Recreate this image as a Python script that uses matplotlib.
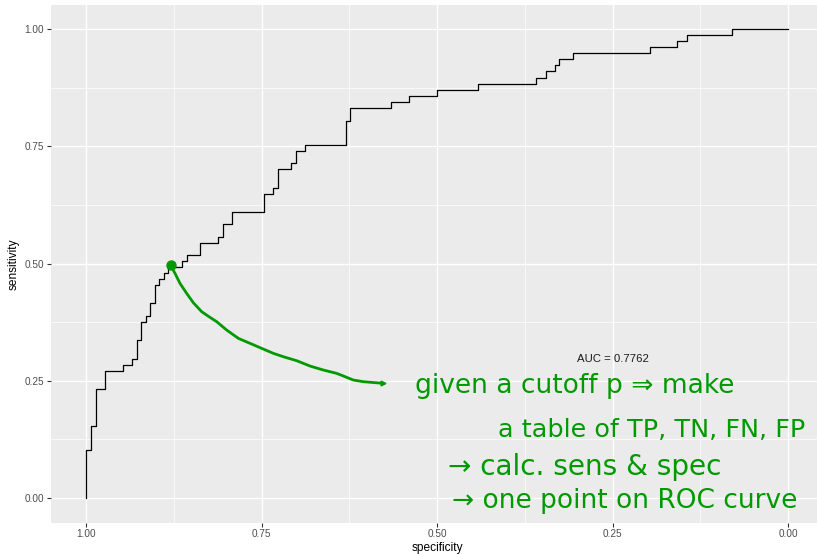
import matplotlib
matplotlib.use("Agg")
import matplotlib.pyplot as plt
import numpy as np

# ROC staircase: specificity at which each vertical jump happens, and the sensitivity after it
jump_spec = [1.0, 0.9929, 0.9862, 0.9734, 0.9478, 0.9350, 0.9279, 0.9218, 0.9151, 0.9090,
             0.9019, 0.8957, 0.8890, 0.8829, 0.8639, 0.8568, 0.8378, 0.8118, 0.8055, 0.7923,
             0.7468, 0.7336, 0.7273, 0.7080, 0.7017, 0.6885, 0.6302, 0.6235, 0.5651, 0.5395,
             0.5007, 0.4420, 0.3585, 0.3452, 0.3324, 0.3257, 0.3063, 0.1963, 0.1575, 0.1441,
             0.0792]
level_sens = [0.1023, 0.1542, 0.2324, 0.2714, 0.2836, 0.2970, 0.3369, 0.3753, 0.3881, 0.4151,
              0.4535, 0.4663, 0.4804, 0.4932, 0.5053, 0.5192, 0.5444, 0.5571, 0.5842, 0.6098,
              0.6482, 0.6616, 0.7009, 0.7136, 0.7399, 0.7533, 0.8045, 0.8309, 0.8443, 0.8571,
              0.8706, 0.8834, 0.8962, 0.9098, 0.9226, 0.9354, 0.9488, 0.9616, 0.9751, 0.9879,
              1.0]

# hand-drawn annotation curve (data coords)
note_spec = [0.8798, 0.8736, 0.8665, 0.8570, 0.8475, 0.8356, 0.8237, 0.8142, 0.8000, 0.7833,
             0.7667, 0.7501, 0.7335, 0.7192, 0.7002, 0.6812, 0.6622, 0.6432, 0.6313, 0.6195,
             0.6052, 0.5767]
note_sens = [0.4968, 0.4790, 0.4577, 0.4364, 0.4165, 0.3973, 0.3852, 0.3760, 0.3582, 0.3404,
             0.3298, 0.3191, 0.3085, 0.3013, 0.2928, 0.2814, 0.2729, 0.2658, 0.2587, 0.2516,
             0.2480, 0.2445]
cut_point = (0.8798, 0.4968)

auc_text = "AUC = 0.7762"
auc_pos = (0.25, 0.297)

tick_vals = [0.0, 0.25, 0.5, 0.75, 1.0]
tick_labels = ["0.00", "0.25", "0.50", "0.75", "1.00"]
minor_vals = [0.125, 0.375, 0.625, 0.875]

note_lines = ["given a cutoff p \u21d2 make",
              "a table of TP, TN, FN, FP",
              "\u2192 calc. sens & spec",
              "\u2192 one point on ROC curve"]

W, H = 817, 554
fig = plt.figure(figsize=(W / 100, H / 100), dpi=100)
fig.patch.set_facecolor("white")
L, R, T, B = 51, 817, 5, 522.5
ax = fig.add_axes([L / W, (H - B) / H, (R - L) / W, (B - T) / H])
ax.set_facecolor("#EBEBEB")
for s in ax.spines.values():
    s.set_visible(False)

ax.set_xlim(1.0503, -0.0413)
ax.set_ylim(-0.0522, 1.0512)

ax.set_xticks(tick_vals)
ax.set_xticklabels(tick_labels)
ax.set_yticks(tick_vals)
ax.set_yticklabels(tick_labels)
ax.set_xticks(minor_vals, minor=True)
ax.set_yticks(minor_vals, minor=True)
ax.grid(True, which="major", color="white", lw=1.0)
ax.grid(True, which="minor", color="white", lw=0.5)
ax.set_axisbelow(True)
ax.tick_params(which="major", length=2.8, width=0.8, color="#333333", pad=2,
               labelsize=7.2, labelcolor="#4D4D4D")
ax.tick_params(which="minor", length=0)
for lab in ax.get_xticklabels() + ax.get_yticklabels():
    lab.set_family("Liberation Sans")

# ROC step line
xs = [jump_spec[0]] + jump_spec[1:] + [0.0]
ys = [0.0] + level_sens
ax.step(xs, ys, where="pre", color="black", lw=0.9, zorder=3)

ax.text(auc_pos[0], auc_pos[1], auc_text, ha="center", va="center",
        fontsize=8.2, family="Liberation Sans", color="#1A1A1A")

green = "#009A00"
ax.plot(note_spec, note_sens, color=green, lw=2.0, solid_capstyle="round",
        solid_joinstyle="round", zorder=4)
ax.plot([cut_point[0]], [cut_point[1]], "o", color=green, ms=6.5, zorder=5)
ax.plot([note_spec[-1]], [note_sens[-1]], ">", color=green, ms=3.5, zorder=5)

# handwritten notes (positions in pixels: left x, centre y, target width)
note_layout = [(415, 386, 320), (498, 430, 307), (448, 467, 274), (452, 501, 345)]
renderer = fig.canvas.get_renderer()
for txt, (x0, yc, wt) in zip(note_lines, note_layout):
    t = fig.text(x0 / W, 1 - yc / H, txt, ha="left", va="center", color=green,
                 fontsize=16, family="DejaVu Sans")
    w = t.get_window_extent(renderer).width
    t.set_fontsize(16 * wt / w)

fig.text(437.5 / W, 1 - 547.5 / H, "specificity", ha="center", va="center",
         fontsize=8.6, family="Liberation Sans", color="black")
fig.text(14 / W, 1 - 264 / H, "sensitivity", ha="center", va="center", rotation=90,
         fontsize=8.6, family="Liberation Sans", color="black")

fig.savefig("out.png", dpi=100)
